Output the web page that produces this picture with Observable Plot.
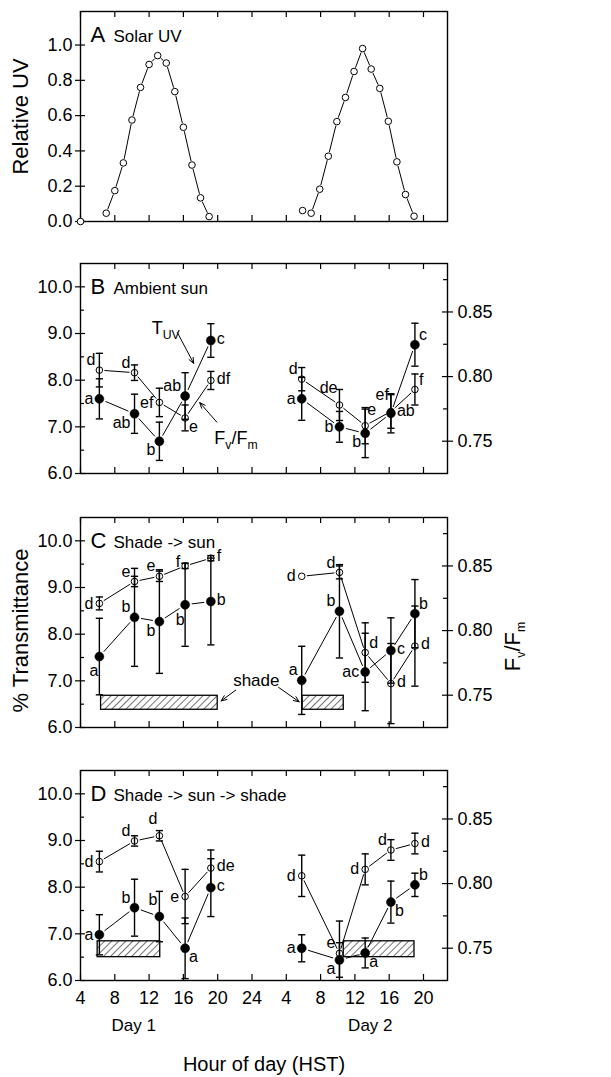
<!DOCTYPE html>
<html>
<head>
<meta charset="utf-8">
<script src="https://cdn.jsdelivr.net/npm/d3@7"></script>
<script src="https://cdn.jsdelivr.net/npm/@observablehq/plot@0.6"></script>
<style>
  body { margin: 0; background: #fff; }
  #chart { width: 611px; }
  #chart svg { display: block; }
</style>
</head>
<body>
<div id="chart"></div>
<script>
// ---------- shared axes ----------
const xDomain = [4, 46.8];
const xTicks = [4, 8, 12, 16, 20, 24, 28, 32, 36, 40, 44];
const xTickLabels = ["4", "8", "12", "16", "20", "24", "4", "8", "12", "16", "20"];
const dayNames = ["Day 1", "Day 2"];
const dayCenters = [10.2, 37.8];

const uvDomain = [0, 1.19];
const uvTicks = [0, 0.2, 0.4, 0.6, 0.8, 1.0];
const leftDomain = [6, 10.5];
const leftMajors = [6, 7, 8, 9, 10];
const leftMinors = [6.5, 7.5, 8.5, 9.5];
const rightDomain = [0.725, 0.8875];
const rightMajors = [0.75, 0.80, 0.85];
const rightMinors = [0.775, 0.825, 0.875];

// ---------- Panel A : solar UV ----------
const uvLoneHour = [4];
const uvLone = [0];
const uvDay1Hours = [7, 8, 9, 10, 11, 12, 13, 14, 15, 16, 17, 18, 19];
const uvDay1 = [0.047, 0.175, 0.332, 0.575, 0.76, 0.89, 0.94, 0.898, 0.736, 0.534, 0.32, 0.134, 0.028];
const uvDay2Hours = [29.9, 30.9, 31.9, 32.9, 33.9, 34.9, 35.9, 36.9, 37.9, 38.9, 39.9, 40.9, 41.9, 42.9];
const uvDay2 = [0.062, 0.047, 0.183, 0.37, 0.566, 0.703, 0.85, 0.98, 0.864, 0.754, 0.568, 0.338, 0.153, 0.03];

// ---------- sampling times (B-D) ----------
const day1Hours = [6.2, 10.3, 13.2, 16.2, 19.2];
const day2Hours = [29.8, 34.2, 37.2, 40.2, 43.0];

// ---------- Panel B : ambient sun ----------
const bTuvDay1 = [7.60, 7.28, 6.69, 7.66, 8.85];
const bTuvDay1Err = [0.43, 0.42, 0.41, 0.50, 0.36];
const bTuvDay1Labels = ["a", "ab", "b", "ab", "c"];
const bTuvDay1Sides = ["l", "dl", "dl", "ul", "r"];
const bTuvDay2 = [7.60, 7.00, 6.86, 7.29, 8.76];
const bTuvDay2Err = [0.46, 0.33, 0.52, 0.42, 0.46];
const bTuvDay2Labels = ["a", "b", "b", "ab", "c"];
const bTuvDay2Sides = ["l", "l", "dl", "r", "ur"];
const bFvDay1 = [0.805, 0.803, 0.780, 0.768, 0.797];
const bFvDay1Err = [0.013, 0.006, 0.011, 0.010, 0.007];
const bFvDay1Labels = ["d", "d", "ef", "e", "df"];
const bFvDay1Sides = ["ul", "ul", "l", "dr", "r"];
const bFvDay2 = [0.798, 0.778, 0.762, 0.773, 0.790];
const bFvDay2Err = [0.009, 0.012, 0.014, 0.013, 0.012];
const bFvDay2Labels = ["d", "de", "e", "ef", "f"];
const bFvDay2Sides = ["ul", "uul", "uur", "uul", "ur"];
const bNoteText = ["T{UV}", "F{v}/F{m}"];
const bNoteX = [12.3, 19.6];
const bNoteY = [9.12, 6.76];
const bArrowX1 = [15.3, 19.9];
const bArrowY1 = [9.02, 7.10];
const bArrowX2 = [17.2, 17.9];
const bArrowY2 = [8.36, 7.52];

// ---------- Panel C : shade -> sun ----------
const cTuvDay1 = [7.52, 8.36, 8.27, 8.63, 8.70];
const cTuvDay1Err = [0.82, 1.05, 1.11, 0.89, 0.93];
const cTuvDay1Labels = ["a", "b", "b", "b", "b"];
const cTuvDay1Sides = ["ddl", "ul", "dl", "d", "r"];
const cTuvDay2 = [7.01, 8.49, 7.19, 7.65, 8.44];
const cTuvDay2Err = [0.73, 1.00, 0.83, 0.70, 0.73];
const cTuvDay2Labels = ["a", "b", "ac", "c", "b"];
const cTuvDay2Sides = ["ul", "ul", "l", "r", "ur"];
const cFvDay1 = [0.821, 0.838, 0.842, 0.850, 0.856];
const cFvDay1Err = [0.005, 0.004, 0.004, 0.002, 0.002];
const cFvDay1Labels = ["d", "e", "e", "f", "f"];
const cFvDay1Sides = ["l", "ul", "ul", "lul", "r"];
const cFvDay2 = [0.842, 0.845, 0.783, 0.759, 0.788];
const cFvDay2Err = [0.000, 0.005, 0.023, 0.031, 0.031];
const cFvDay2Labels = ["d", "d", "d", "d", "d"];
const cFvDay2Sides = ["l", "ul", "ur", "r", "r"];
const cShadeStart = [6.4, 29.9];
const cShadeEnd = [20.0, 34.7];
const cShadeLow = [6.38, 6.38];
const cShadeHigh = [6.68, 6.68];
const cNoteText = ["shade"];
const cNoteX = [24.5];
const cNoteY = [7.0];
const cArrowX1 = [22.1, 27.1];
const cArrowY1 = [6.80, 6.86];
const cArrowX2 = [20.4, 29.5];
const cArrowY2 = [6.57, 6.55];

// ---------- Panel D : shade -> sun -> shade ----------
const dTuvDay1 = [6.98, 7.56, 7.37, 6.69, 7.99];
const dTuvDay1Err = [0.43, 0.61, 0.54, 0.65, 0.62];
const dTuvDay1Labels = ["a", "b", "b", "a", "c"];
const dTuvDay1Sides = ["l", "ul", "uul", "dr", "r"];
const dTuvDay2 = [6.69, 6.44, 6.59, 7.68, 8.05];
const dTuvDay2Err = [0.29, 0.37, 0.32, 0.45, 0.25];
const dTuvDay2Labels = ["a", "a", "a", "b", "b"];
const dTuvDay2Sides = ["l", "dl", "dr", "dr", "ur"];
const dFvDay1 = [0.817, 0.833, 0.837, 0.790, 0.812];
const dFvDay1Err = [0.008, 0.004, 0.004, 0.021, 0.014];
const dFvDay1Labels = ["d", "d", "d", "e", "de"];
const dFvDay1Sides = ["l", "ul", "uul", "l", "r"];
const dFvDay2 = [0.806, 0.746, 0.811, 0.826, 0.831];
const dFvDay2Err = [0.016, 0.025, 0.012, 0.008, 0.008];
const dFvDay2Labels = ["d", "e", "d", "d", "d"];
const dFvDay2Sides = ["l", "ul", "l", "ul", "r"];
const dShadeStart = [6.0, 34.7];
const dShadeEnd = [13.3, 42.95];
const dShadeLow = [6.5, 6.5];
const dShadeHigh = [6.84, 6.84];

// ---------- layout / style ----------
const W = 611, ML = 80, MR = 164;
const FW = W - ML - MR;      // frame width
const FH = 210;              // frame height
const FONT = "'Liberation Sans', Arial, Helvetica, sans-serif";
const baseStyle = {fontFamily: FONT, fontSize: "18px", color: "black", background: "white", overflow: "visible"};

const labelOffsets = {
  l:   {dx: -6, dy: 0,   textAnchor: "end"},
  r:   {dx: 6,  dy: -2,  textAnchor: "start"},
  ul:  {dx: -4, dy: -10, textAnchor: "end"},
  lul: {dx: -5, dy: -4,  textAnchor: "end"},
  ur:  {dx: 4,  dy: -10, textAnchor: "start"},
  dl:  {dx: -4, dy: 9,   textAnchor: "end"},
  ddl: {dx: -1, dy: 14,  textAnchor: "end"},
  dr:  {dx: 4,  dy: 9,   textAnchor: "start"},
  uul: {dx: -2, dy: -17, textAnchor: "end"},
  uur: {dx: 2,  dy: -16, textAnchor: "start"},
  d:   {dx: -5, dy: 15,  textAnchor: "middle"}
};

const toLeft = r => leftDomain[0] + (r - rightDomain[0]) / (rightDomain[1] - rightDomain[0]) * (leftDomain[1] - leftDomain[0]);
const fromLeft = v => rightDomain[0] + (v - leftDomain[0]) / (leftDomain[1] - leftDomain[0]) * (rightDomain[1] - rightDomain[0]);

const capSymbol = {
  draw(context, size) {
    const h = Math.sqrt(size / Math.PI);
    context.moveTo(-h, 0);
    context.lineTo(h, 0);
  }
};

function rows(hours, values, errs, labels, sides, onRight) {
  const conv = onRight ? toLeft : (v => v);
  return hours.map((h, i) => ({
    x: h,
    y: conv(values[i]),
    lo: conv(values[i] - (errs ? errs[i] : 0)),
    hi: conv(values[i] + (errs ? errs[i] : 0)),
    err: errs ? errs[i] : 0,
    label: labels ? labels[i] : "",
    side: sides ? sides[i] : ""
  }));
}
function segments(rs) {
  return rs.slice(1).map((d, i) => ({x1: rs[i].x, y1: rs[i].y, x2: d.x, y2: d.y}));
}
function capsOf(rs) {
  return rs.filter(d => d.err > 0).flatMap(d =>
    [d.lo, d.hi].filter(v => v >= leftDomain[0] && v <= leftDomain[1]).map(v => ({x: d.x, y: v})));
}
function labelMarks(rs) {
  return Object.entries(labelOffsets).map(([side, o]) =>
    Plot.text(rs.filter(d => d.side === side), {
      x: "x", y: "y", text: "label", dx: o.dx, dy: o.dy, textAnchor: o.textAnchor, fontSize: 16
    }));
}
function xTickMarks() {
  return [
    Plot.tickX(xTicks, {x: d => d, insetTop: FH - 6, strokeWidth: 1.2}),
    Plot.tickX(xTicks, {x: d => d, insetBottom: FH - 6, strokeWidth: 1.2})
  ];
}
function headerMarks(letter, title) {
  return [
    Plot.text([letter], {frameAnchor: "top-left", dx: 10, dy: 30, lineAnchor: "bottom", textAnchor: "start", fontSize: 22}),
    Plot.text([title], {frameAnchor: "top-left", dx: 33, dy: 30, lineAnchor: "bottom", textAnchor: "start", fontSize: 17})
  ];
}
function zip(a, b, c, d) { return a.map((v, i) => ({x1: v, y1: b[i], x2: c[i], y2: d[i]})); }

function richText(svg) {
  d3.select(svg).selectAll("text").each(function () {
    const s = this.textContent;
    if (!s.includes("{")) return;
    const fs = parseFloat(getComputedStyle(this).fontSize) || 18;
    const shift = fs * 0.3;
    const parts = s.split(/(\{[^}]*\})/).filter(p => p.length);
    const sel = d3.select(this);
    sel.text(null);
    let down = false;
    for (const p of parts) {
      if (p.startsWith("{")) {
        sel.append("tspan").attr("font-size", (fs * 0.68) + "px").attr("dy", shift).text(p.slice(1, -1));
        down = true;
      } else {
        const t = sel.append("tspan").text(p);
        if (down) { t.attr("dy", -shift); down = false; }
      }
    }
  });
}
function addHatch(svg, id) {
  const defs = d3.select(svg).insert("defs", ":first-child");
  const pat = defs.append("pattern").attr("id", id)
    .attr("patternUnits", "userSpaceOnUse").attr("width", 5).attr("height", 5)
    .attr("patternTransform", "rotate(45)");
  pat.append("rect").attr("width", 5).attr("height", 5).attr("fill", "white");
  pat.append("line").attr("x1", 0).attr("y1", 0).attr("x2", 0).attr("y2", 5)
    .attr("stroke", "black").attr("stroke-width", 1.1);
}

// ---------- Panel A ----------
function panelA() {
  const d1 = rows(uvDay1Hours, uvDay1);
  const d2 = rows(uvDay2Hours, uvDay2);
  const lone = rows(uvLoneHour, uvLone);
  return Plot.plot({
    width: W, height: 242, marginLeft: ML, marginRight: MR, marginTop: 11, marginBottom: 21,
    style: baseStyle,
    x: {domain: xDomain, axis: null},
    y: {domain: uvDomain},
    marks: [
      Plot.frame({stroke: "black", strokeWidth: 1.4}),
      ...xTickMarks(),
      Plot.axisY({anchor: "left", ticks: uvTicks, tickSize: 5, tickPadding: 3, tickFormat: d3.format(".1f"), label: null, strokeWidth: 1.2}),
      Plot.tickY(uvTicks, {y: d => d, insetRight: FW - 5, strokeWidth: 1.2}),
      Plot.arrow([...segments(d1), ...segments(d2)], {x1: "x1", y1: "y1", x2: "x2", y2: "y2", headLength: 0, insetStart: 4.5, insetEnd: 4.5, stroke: "black", strokeWidth: 1}),
      Plot.dot([...lone, ...d1, ...d2], {x: "x", y: "y", r: 3.3, fill: "white", stroke: "black", strokeWidth: 1}),
      ...headerMarks("A", "Solar UV"),
      Plot.text(["Relative UV"], {frameAnchor: "left", dx: -60, rotate: -90, textAnchor: "middle", fontSize: 22})
    ]
  });
}

// ---------- Panels B-D ----------
function dualPanel(cfg) {
  const f1 = rows(day1Hours, cfg.tuv1, cfg.tuv1Err, cfg.tuv1Labels, cfg.tuv1Sides, false);
  const f2 = rows(day2Hours, cfg.tuv2, cfg.tuv2Err, cfg.tuv2Labels, cfg.tuv2Sides, false);
  const o1 = rows(day1Hours, cfg.fv1, cfg.fv1Err, cfg.fv1Labels, cfg.fv1Sides, true);
  const o2 = rows(day2Hours, cfg.fv2, cfg.fv2Err, cfg.fv2Labels, cfg.fv2Sides, true);
  const filled = [...f1, ...f2];
  const open = [...o1, ...o2];
  const shades = cfg.shades || [];
  const fmt2 = d3.format(".2f");
  const marks = [
    Plot.rect(shades, {x1: "x1", x2: "x2", y1: "y1", y2: "y2", fill: `url(#${cfg.hatchId})`, stroke: "black", strokeWidth: 1.3}),
    Plot.frame({stroke: "black", strokeWidth: 1.4}),
    ...xTickMarks(),
    Plot.axisY({anchor: "left", ticks: leftMajors, tickSize: 5, tickPadding: 3, tickFormat: d3.format(".1f"), label: null, strokeWidth: 1.2}),
    Plot.tickY(leftMajors, {y: d => d, insetRight: FW - 5, strokeWidth: 1.2}),
    Plot.tickY(leftMinors, {y: d => d, insetRight: FW - 4, strokeWidth: 1.2}),
    Plot.axisY({anchor: "right", ticks: rightMajors.map(toLeft), tickSize: 5, tickPadding: 5, tickFormat: d => fmt2(fromLeft(d)), label: null, strokeWidth: 1.2}),
    Plot.tickY(rightMajors.map(toLeft), {y: d => d, insetLeft: FW - 5, strokeWidth: 1.2}),
    Plot.tickY(rightMinors.map(toLeft), {y: d => d, insetLeft: FW - 4, strokeWidth: 1.2}),
    Plot.arrow([...segments(f1), ...segments(f2)], {x1: "x1", y1: "y1", x2: "x2", y2: "y2", headLength: 0, insetStart: 7, insetEnd: 7, stroke: "black", strokeWidth: 1}),
    Plot.arrow([...segments(o1), ...segments(o2)], {x1: "x1", y1: "y1", x2: "x2", y2: "y2", headLength: 0, insetStart: 5.5, insetEnd: 5.5, stroke: "black", strokeWidth: 1}),
    Plot.dot(open, {x: "x", y: "y", r: 3.3, fill: "white", stroke: "black", strokeWidth: 1}),
    Plot.ruleX([...filled, ...open].filter(d => d.err > 0), {x: "x", y1: d => Math.max(d.lo, leftDomain[0]), y2: d => Math.min(d.hi, leftDomain[1]), stroke: "black", strokeWidth: 1.4}),
    Plot.dot(capsOf([...filled, ...open]), {x: "x", y: "y", symbol: capSymbol, r: 3.6, stroke: "black", strokeWidth: 1.4, fill: "none"}),
    Plot.dot(filled, {x: "x", y: "y", r: 4.5, fill: "black", stroke: "black", strokeWidth: 0.5}),
    ...labelMarks(filled),
    ...labelMarks(open),
    ...headerMarks(cfg.letter, cfg.title),
    ...(cfg.extra || [])
  ];
  const svg = Plot.plot({
    width: W, height: cfg.height, marginLeft: ML, marginRight: MR, marginTop: cfg.marginTop, marginBottom: cfg.marginBottom,
    style: baseStyle,
    x: cfg.xAxis ? {domain: xDomain} : {domain: xDomain, axis: null},
    y: {domain: leftDomain},
    marks
  });
  addHatch(svg, cfg.hatchId);
  return svg;
}

const bNotes = bNoteText.map((t, i) => ({t, x: bNoteX[i], y: bNoteY[i]}));
const cNotes = cNoteText.map((t, i) => ({t, x: cNoteX[i], y: cNoteY[i]}));

const svgA = panelA();

const svgB = dualPanel({
  letter: "B", title: "Ambient sun", height: 253, marginTop: 21, marginBottom: 22, hatchId: "hatchB",
  tuv1: bTuvDay1, tuv1Err: bTuvDay1Err, tuv1Labels: bTuvDay1Labels, tuv1Sides: bTuvDay1Sides,
  tuv2: bTuvDay2, tuv2Err: bTuvDay2Err, tuv2Labels: bTuvDay2Labels, tuv2Sides: bTuvDay2Sides,
  fv1: bFvDay1, fv1Err: bFvDay1Err, fv1Labels: bFvDay1Labels, fv1Sides: bFvDay1Sides,
  fv2: bFvDay2, fv2Err: bFvDay2Err, fv2Labels: bFvDay2Labels, fv2Sides: bFvDay2Sides,
  extra: [
    Plot.text(bNotes, {x: "x", y: "y", text: "t", textAnchor: "start", fontSize: 18}),
    Plot.arrow(zip(bArrowX1, bArrowY1, bArrowX2, bArrowY2), {x1: "x1", y1: "y1", x2: "x2", y2: "y2", headLength: 9, headAngle: 45, stroke: "black", strokeWidth: 1})
  ]
});

const svgC = dualPanel({
  letter: "C", title: "Shade -> sun", height: 253, marginTop: 22, marginBottom: 21, hatchId: "hatchC",
  tuv1: cTuvDay1, tuv1Err: cTuvDay1Err, tuv1Labels: cTuvDay1Labels, tuv1Sides: cTuvDay1Sides,
  tuv2: cTuvDay2, tuv2Err: cTuvDay2Err, tuv2Labels: cTuvDay2Labels, tuv2Sides: cTuvDay2Sides,
  fv1: cFvDay1, fv1Err: cFvDay1Err, fv1Labels: cFvDay1Labels, fv1Sides: cFvDay1Sides,
  fv2: cFvDay2, fv2Err: cFvDay2Err, fv2Labels: cFvDay2Labels, fv2Sides: cFvDay2Sides,
  shades: cShadeStart.map((s, i) => ({x1: s, x2: cShadeEnd[i], y1: cShadeLow[i], y2: cShadeHigh[i]})),
  extra: [
    Plot.text(cNotes, {x: "x", y: "y", text: "t", fontSize: 17}),
    Plot.arrow(zip(cArrowX1, cArrowY1, cArrowX2, cArrowY2), {x1: "x1", y1: "y1", x2: "x2", y2: "y2", headLength: 9, headAngle: 45, stroke: "black", strokeWidth: 1}),
    Plot.text(["% Transmittance"], {frameAnchor: "left", dx: -60, dy: 8, rotate: -90, textAnchor: "middle", fontSize: 22}),
    Plot.text(["F{v}/F{m}"], {frameAnchor: "right", dx: 65, dy: 24, rotate: -90, textAnchor: "middle", fontSize: 22})
  ]
});

const svgD = dualPanel({
  letter: "D", title: "Shade -> sun -> shade", height: 329, marginTop: 22, marginBottom: 97, hatchId: "hatchD", xAxis: true,
  tuv1: dTuvDay1, tuv1Err: dTuvDay1Err, tuv1Labels: dTuvDay1Labels, tuv1Sides: dTuvDay1Sides,
  tuv2: dTuvDay2, tuv2Err: dTuvDay2Err, tuv2Labels: dTuvDay2Labels, tuv2Sides: dTuvDay2Sides,
  fv1: dFvDay1, fv1Err: dFvDay1Err, fv1Labels: dFvDay1Labels, fv1Sides: dFvDay1Sides,
  fv2: dFvDay2, fv2Err: dFvDay2Err, fv2Labels: dFvDay2Labels, fv2Sides: dFvDay2Sides,
  shades: dShadeStart.map((s, i) => ({x1: s, x2: dShadeEnd[i], y1: dShadeLow[i], y2: dShadeHigh[i]})),
  extra: [
    Plot.axisX({anchor: "bottom", ticks: xTicks, tickSize: 0, tickPadding: 11, tickFormat: d => xTickLabels[xTicks.indexOf(d)], label: null}),
    Plot.text(dayNames.map((t, i) => ({t, x: dayCenters[i]})), {x: "x", text: "t", frameAnchor: "bottom", dy: 50, fontSize: 17}),
    Plot.text(["Hour of day (HST)"], {frameAnchor: "bottom", dy: 90, fontSize: 20})
  ]
});

const chart = document.getElementById("chart");
for (const svg of [svgA, svgB, svgC, svgD]) {
  richText(svg);
  chart.appendChild(svg);
}
</script>
</body>
</html>
